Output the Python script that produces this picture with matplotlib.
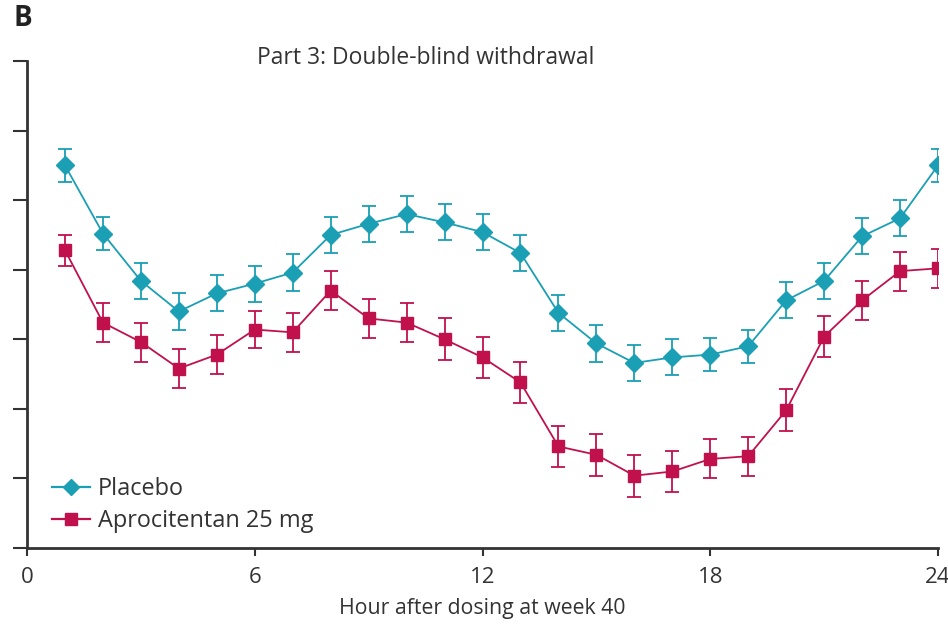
import matplotlib
matplotlib.use("Agg")
import matplotlib.pyplot as plt
from matplotlib.lines import Line2D

hours = list(range(1, 25))
placebo = [142.5, 137.6, 134.2, 132.0, 133.3, 134.0, 134.8, 137.5, 138.3, 139.0, 138.4, 137.7,
           136.2, 131.9, 129.7, 128.3, 128.7, 128.9, 129.5, 132.8, 134.2, 137.4, 138.7, 142.5]
placebo_err = [1.2, 1.2, 1.3, 1.3, 1.3, 1.3, 1.3, 1.3, 1.3, 1.3, 1.3, 1.3,
               1.3, 1.3, 1.3, 1.3, 1.3, 1.2, 1.2, 1.3, 1.3, 1.3, 1.3, 1.2]
aproc = [136.4, 131.2, 129.8, 127.9, 128.9, 130.7, 130.5, 133.5, 131.5, 131.2, 130.0, 128.7,
         126.9, 122.3, 121.7, 120.2, 120.5, 121.4, 121.6, 124.9, 130.2, 132.8, 134.9, 135.1]
aproc_err = [1.1, 1.4, 1.4, 1.4, 1.4, 1.3, 1.4, 1.4, 1.4, 1.4, 1.5, 1.5,
             1.5, 1.5, 1.5, 1.5, 1.5, 1.4, 1.4, 1.5, 1.5, 1.4, 1.4, 1.4]
x_ticks = [0, 6, 12, 18, 24]
y_ticks = [115, 120, 125, 130, 135, 140, 145, 150]
labels = ["Placebo", "Aprocitentan 25 mg"]

plt.rcParams['font.family'] = ['Open Sans', 'DejaVu Sans']

fig = plt.figure(figsize=(9.48, 6.34), dpi=100)
ax = fig.add_axes([0.0285, 0.1356, 0.961, 0.7682])

c_pl = '#1a9fb4'
c_ap = '#c0114c'
ax.errorbar(hours, placebo, yerr=placebo_err, color=c_pl, marker='D', markersize=9,
            linewidth=1.3, elinewidth=1.3, capsize=5, capthick=1.3)
ax.errorbar(hours, aproc, yerr=aproc_err, color=c_ap, marker='s', markersize=8,
            linewidth=1.3, elinewidth=1.3, capsize=5, capthick=1.3)

ax.set_xlim(0, 24)
ax.set_ylim(115, 150)
ax.set_xticks(x_ticks)
ax.set_yticks(y_ticks)
ax.set_yticklabels([])
ax.tick_params(axis='x', labelsize=16, length=6, width=1.5, colors='#333333', pad=8)
ax.tick_params(axis='y', length=10, width=1.5, colors='#333333')
for s in ['top', 'right']:
    ax.spines[s].set_visible(False)
for s in ['left', 'bottom']:
    ax.spines[s].set_linewidth(2)
    ax.spines[s].set_color('#333333')

ax.set_xlabel("Hour after dosing at week 40", fontsize=15.3, color='#333333', labelpad=7)

handles = [Line2D([], [], color=c_pl, marker='D', markersize=8, linewidth=1.6),
           Line2D([], [], color=c_ap, marker='s', markersize=8, linewidth=1.6)]
leg = ax.legend(handles, labels, loc='lower left', bbox_to_anchor=(0.0274, 0.03), frameon=False,
                fontsize=16.9, handlelength=1.6, handletextpad=0.35, labelspacing=0.35,
                borderaxespad=0.0, borderpad=0.0)
for t in leg.get_texts():
    t.set_color('#333333')

fig.text(426/948, 1 - 58/634, "Part 3: Double-blind withdrawal", fontsize=16.5, color='#333333',
         ha='center', va='center')
fig.text(13/948, 1 - 19/634, "B", fontsize=20, color='#222222', ha='left', va='center',
         fontweight='bold')

fig.savefig("out.png", dpi=100)
